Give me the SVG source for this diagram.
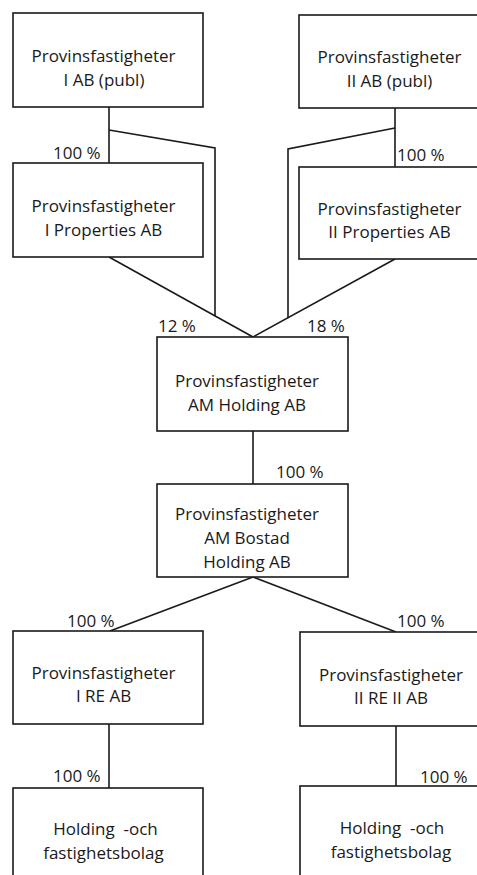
<svg xmlns="http://www.w3.org/2000/svg" width="477" height="875" viewBox="0 0 477 875">
<style>
.box{fill:#fff;stroke:#1a1a1a;stroke-width:1.6}
.ln{fill:none;stroke:#1a1a1a;stroke-width:1.6}
text{font-family:"Open Sans","DejaVu Sans",sans-serif;font-size:17px;fill:#1a1a1a}
.c{text-anchor:middle}
.pre{white-space:pre}
</style>
<rect width="477" height="875" fill="#fff"/>
<g id="connectors">
<path class="ln" d="M109,107 V163"/>
<path class="ln" d="M109,130 L215,148 V316"/>
<path class="ln" d="M109,257 L253,337"/>
<path class="ln" d="M395,108 V167"/>
<path class="ln" d="M395,128 L288,149 V318"/>
<path class="ln" d="M395,259 L253,337"/>
<path class="ln" d="M253,431 V484"/>
<path class="ln" d="M253,577 L110,631"/>
<path class="ln" d="M253,577 L396,632"/>
<path class="ln" d="M109,724 V788"/>
<path class="ln" d="M396,726 V786"/>
<text x="53" y="159">100 %</text>
<text x="397" y="161">100 %</text>
<text x="158" y="332">12 %</text>
<text x="307" y="332">18 %</text>
<text x="276" y="478">100 %</text>
<text x="67" y="627">100 %</text>
<text x="397" y="627">100 %</text>
<text x="53" y="782">100 %</text>
<text x="420" y="783">100 %</text>
</g>
<g id="n1">
<rect class="box" x="13" y="13" width="190" height="94"/>
<text class="c" x="103.5" y="62">Provinsfastigheter</text>
<text class="c" x="104" y="86">I AB (publ)</text>
</g>
<g id="n2">
<rect class="box" x="299" y="15" width="181" height="93"/>
<text class="c" x="389.5" y="63">Provinsfastigheter</text>
<text class="c" x="389.5" y="87">II AB (publ)</text>
</g>
<g id="n3">
<rect class="box" x="13" y="163" width="190" height="94"/>
<text class="c" x="103.5" y="212">Provinsfastigheter</text>
<text class="c" x="103.5" y="236">I Properties AB</text>
</g>
<g id="n4">
<rect class="box" x="299" y="167" width="181" height="92"/>
<text class="c" x="389.5" y="215">Provinsfastigheter</text>
<text class="c" x="389.5" y="238">II Properties AB</text>
</g>
<g id="n5">
<rect class="box" x="157" y="337" width="191" height="94"/>
<text class="c" x="247" y="387">Provinsfastigheter</text>
<text class="c" x="247" y="411">AM Holding AB</text>
</g>
<g id="n6">
<rect class="box" x="157" y="484" width="191" height="93"/>
<text class="c" x="247" y="520">Provinsfastigheter</text>
<text class="c" x="247" y="544">AM Bostad</text>
<text class="c" x="247" y="568">Holding AB</text>
</g>
<g id="n7">
<rect class="box" x="13" y="631" width="190" height="93"/>
<text class="c" x="103.5" y="679">Provinsfastigheter</text>
<text class="c" x="103.5" y="702">I RE AB</text>
</g>
<g id="n8">
<rect class="box" x="300" y="632" width="180" height="94"/>
<text class="c" x="391" y="681">Provinsfastigheter</text>
<text class="c" x="391" y="704">II RE II AB</text>
</g>
<g id="n9">
<rect class="box" x="13" y="788" width="190" height="100"/>
<text class="c pre" x="105.5" y="835">Holding  -och</text>
<text class="c" x="103.5" y="859">fastighetsbolag</text>
</g>
<g id="n10">
<rect class="box" x="300" y="786" width="180" height="100"/>
<text class="c pre" x="392" y="834">Holding  -och</text>
<text class="c" x="391" y="858">fastighetsbolag</text>
</g>
</svg>
